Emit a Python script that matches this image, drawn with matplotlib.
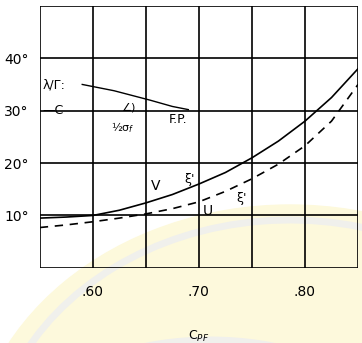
import matplotlib
matplotlib.use("Agg")
import matplotlib.pyplot as plt
from matplotlib.patches import Ellipse, Arc

# Werte
cpf = [0.55, 0.575, 0.60, 0.625, 0.65, 0.675, 0.70, 0.725, 0.75, 0.775, 0.80, 0.825, 0.85]
v_xi = [9.5, 9.7, 10.0, 11.0, 12.4, 14.0, 16.0, 18.2, 21.0, 24.2, 28.0, 32.5, 38.0]
u_xi = [7.7, 8.2, 8.8, 9.5, 10.3, 11.3, 12.6, 14.6, 17.0, 19.8, 23.3, 28.0, 35.0]

fp_x = [0.59, 0.62, 0.654, 0.675, 0.69]
fp_y = [35.0, 33.8, 32.0, 30.8, 30.2]

x_ticks = [0.60, 0.70, 0.80]
x_labels = ['.60', '.70', '.80']
y_ticks = [10, 20, 30, 40]
y_labels = ['10°', '20°', '30°', '40°']

fig = plt.figure(figsize=(3.62, 3.43), dpi=100)

# blasses Wasserzeichen im Hintergrund
bg = fig.add_axes([0, 0, 1, 1])
bg.set_xlim(0, 362)
bg.set_ylim(343, 0)
bg.axis('off')
bg.add_patch(Ellipse((290, 470), 640, 530, color='#fdf9dc', zorder=0))
bg.add_patch(Arc((290, 470), 600, 500, theta1=200, theta2=330, color='#f0f0ec', lw=5, zorder=1))
bg.add_patch(Arc((210, 420), 330, 160, theta1=190, theta2=350, color='#f0f0ec', lw=5, zorder=1))

ax = fig.add_axes([0.110, 0.219, 0.879, 0.764])
ax.patch.set_alpha(0)
ax.set_xlim(0.55, 0.85)
ax.set_ylim(0, 50)

# Gitter
for gx in [0.55, 0.60, 0.65, 0.70, 0.75, 0.80, 0.85]:
    ax.axvline(gx, color='black', lw=1.2)
for gy in [0, 10, 20, 30, 40, 50]:
    ax.axhline(gy, color='black', lw=1.2)
for s in ax.spines.values():
    s.set_visible(False)

ax.plot(cpf, v_xi, color='black', lw=1.2)
ax.plot(cpf, u_xi, color='black', lw=1.2, linestyle=(0, (5, 4)))
ax.plot(fp_x, fp_y, color='black', lw=1.0)

ax.set_xticks(x_ticks)
ax.set_xticklabels(x_labels)
ax.set_yticks(y_ticks)
ax.set_yticklabels(y_labels)
ax.tick_params(axis='x', length=0, labelsize=10, pad=12)
ax.tick_params(axis='y', length=0, labelsize=10, pad=8)
ax.set_xlabel('C$_{PF}$', fontsize=9, labelpad=22)

# Beschriftungen im Diagramm
ax.text(0.553, 34.8, 'λ/Γ:', fontsize=9, va='center')
ax.text(0.552, 30.0, '—C', fontsize=9, va='center')
ax.text(0.627, 30.6, '∠)', fontsize=8, va='center')
ax.text(0.617, 26.8, '½σ$_f$', fontsize=8, va='center')
ax.text(0.672, 28.3, 'F.P.', fontsize=9, va='center')
ax.text(0.655, 15.6, 'V', fontsize=10, va='center')
ax.text(0.686, 16.8, "ξ'", fontsize=9, va='center')
ax.text(0.704, 10.8, 'U', fontsize=10, va='center')
ax.text(0.735, 13.2, "ξ'", fontsize=9, va='center')

fig.savefig('out.png', dpi=100)
